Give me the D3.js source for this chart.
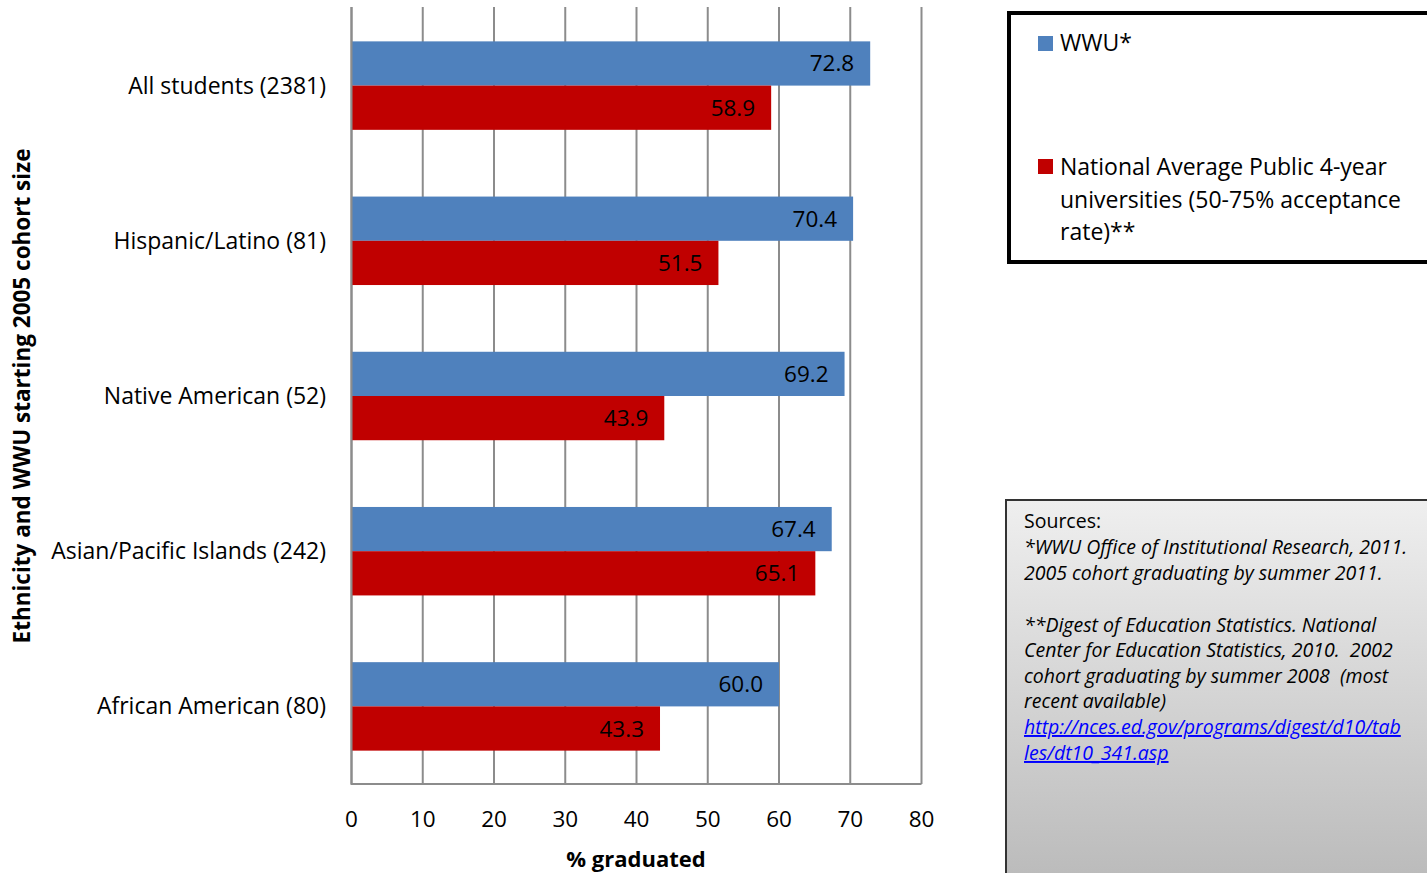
<!DOCTYPE html>
<html><head><meta charset="utf-8">
<script src="https://cdn.jsdelivr.net/npm/d3@7"></script>
<style>body{margin:0;background:#fff;overflow:hidden}svg{display:block}</style>
</head><body>
<svg id="c" width="1427" height="873"></svg>
<script>
const categories = ["All students (2381)","Hispanic/Latino (81)","Native American (52)","Asian/Pacific Islands (242)","African American (80)"];
const seriesNames = ["WWU*","National Average Public 4-year universities (50-75% acceptance rate)**"];
const wwu = [72.8,70.4,69.2,67.4,60.0];
const national = [58.9,51.5,43.9,65.1,43.3];
const xTicks = [0,10,20,30,40,50,60,70,80];
const colors = ["#4f81bd","#c00000"];
const font = "'Open Sans', Lato, sans-serif";

const svg = d3.select("#c");
const x = d3.scaleLinear().domain([0,80]).range([351.5,921.5]);
const y = d3.scaleBand().domain(categories).range([8,784]).paddingInner(0.43).paddingOuter(0.215);
const sub = d3.scaleBand().domain([0,1]).range([0,y.bandwidth()]);

svg.append("g").selectAll("line").data(xTicks).join("line")
  .attr("x1",d=>x(d)).attr("x2",d=>x(d)).attr("y1",7).attr("y2",784)
  .attr("stroke","#8c8c8c").attr("stroke-width",2);

const series=[wwu,national];
series.forEach((vals,si)=>{
  const g=svg.append("g");
  g.selectAll("rect").data(vals).join("rect")
    .attr("x",x(0)).attr("y",(d,i)=>y(categories[i])+sub(si))
    .attr("width",d=>x(d)-x(0)).attr("height",sub.bandwidth())
    .attr("fill",colors[si]);
  g.selectAll("text").data(vals).join("text")
    .attr("x",d=>x(d)-16).attr("y",(d,i)=>y(categories[i])+sub(si)+sub.bandwidth()/2+8)
    .attr("text-anchor","end").attr("font-family",font).attr("font-size",22.5).attr("fill","#000")
    .text(d=>d.toFixed(1));
});

svg.append("line").attr("x1",x(0)).attr("x2",x(80)).attr("y1",784).attr("y2",784).attr("stroke","#8c8c8c").attr("stroke-width",2);
svg.append("line").attr("x1",x(0)).attr("x2",x(0)).attr("y1",7).attr("y2",785).attr("stroke","#8c8c8c").attr("stroke-width",2);

svg.append("g").selectAll("text").data(xTicks).join("text")
  .attr("x",d=>x(d)).attr("y",827).attr("text-anchor","middle")
  .attr("font-family",font).attr("font-size",22.5).text(d=>d);

svg.append("g").selectAll("text").data(categories).join("text")
  .attr("x",326).attr("y",d=>y(d)+y.bandwidth()/2+8).attr("text-anchor","end")
  .attr("font-family",font).attr("font-size",23).text(d=>d);

svg.append("text").attr("x",636).attr("y",867).attr("text-anchor","middle")
  .attr("font-family",font).attr("font-size",22).attr("font-weight","bold").text("% graduated");
svg.append("text").attr("transform","translate(30,396) rotate(-90)").attr("text-anchor","middle")
  .attr("font-family",font).attr("font-size",22.5).attr("font-weight","bold")
  .text("Ethnicity and WWU starting 2005 cohort size");

const lg=svg.append("g");
lg.append("rect").attr("x",1009).attr("y",13).attr("width",440).attr("height",249)
  .attr("fill","#fff").attr("stroke","#000").attr("stroke-width",4);
lg.append("rect").attr("x",1038).attr("y",36).attr("width",15).attr("height",15).attr("fill",colors[0]);
lg.append("text").attr("x",1060).attr("y",51).attr("font-family",font).attr("font-size",23).text(seriesNames[0]);
lg.append("rect").attr("x",1038).attr("y",159).attr("width",15).attr("height",15).attr("fill",colors[1]);
const lt=lg.append("text").attr("font-family",font).attr("font-size",23);
["National Average Public 4-year","universities (50-75% acceptance","rate)**"].forEach((l,i)=>
  lt.append("tspan").attr("x",1060).attr("y",175+i*32.5).text(l));

const defs=svg.append("defs");
const gr=defs.append("linearGradient").attr("id","gb").attr("x1",0).attr("y1",0).attr("x2",0).attr("y2",1);
gr.append("stop").attr("offset","0%").attr("stop-color","#efefef");
gr.append("stop").attr("offset","100%").attr("stop-color","#b8b8b8");
svg.append("rect").attr("x",1006).attr("y",500).attr("width",440).attr("height",400)
  .attr("fill","url(#gb)").attr("stroke","#333").attr("stroke-width",2);
const st=svg.append("text").attr("font-family",font).attr("font-size",19.5);
const lines=[
  ["Sources:",false,528],
  ["*WWU Office of Institutional Research, 2011.",true,554],
  ["2005 cohort graduating by summer 2011.",true,580],
  ["**Digest of Education Statistics. National",true,632],
  ["Center for Education Statistics, 2010.  2002",true,657],
  ["cohort graduating by summer 2008  (most",true,683],
  ["recent available)",true,708],
];
lines.forEach(([t,it,yy])=>st.append("tspan").attr("x",1024).attr("y",yy).attr("font-style",it?"italic":"normal").attr("xml:space","preserve").text(t));
["http://nces.ed.gov/programs/digest/d10/tab","les/dt10_341.asp"].forEach((t,i)=>
  svg.append("text").attr("x",1024).attr("y",734+i*26).attr("font-family",font).attr("font-size",19.5)
    .attr("font-style","italic").attr("fill","#0000ff").attr("text-decoration","underline").text(t));
</script>
</body></html>
